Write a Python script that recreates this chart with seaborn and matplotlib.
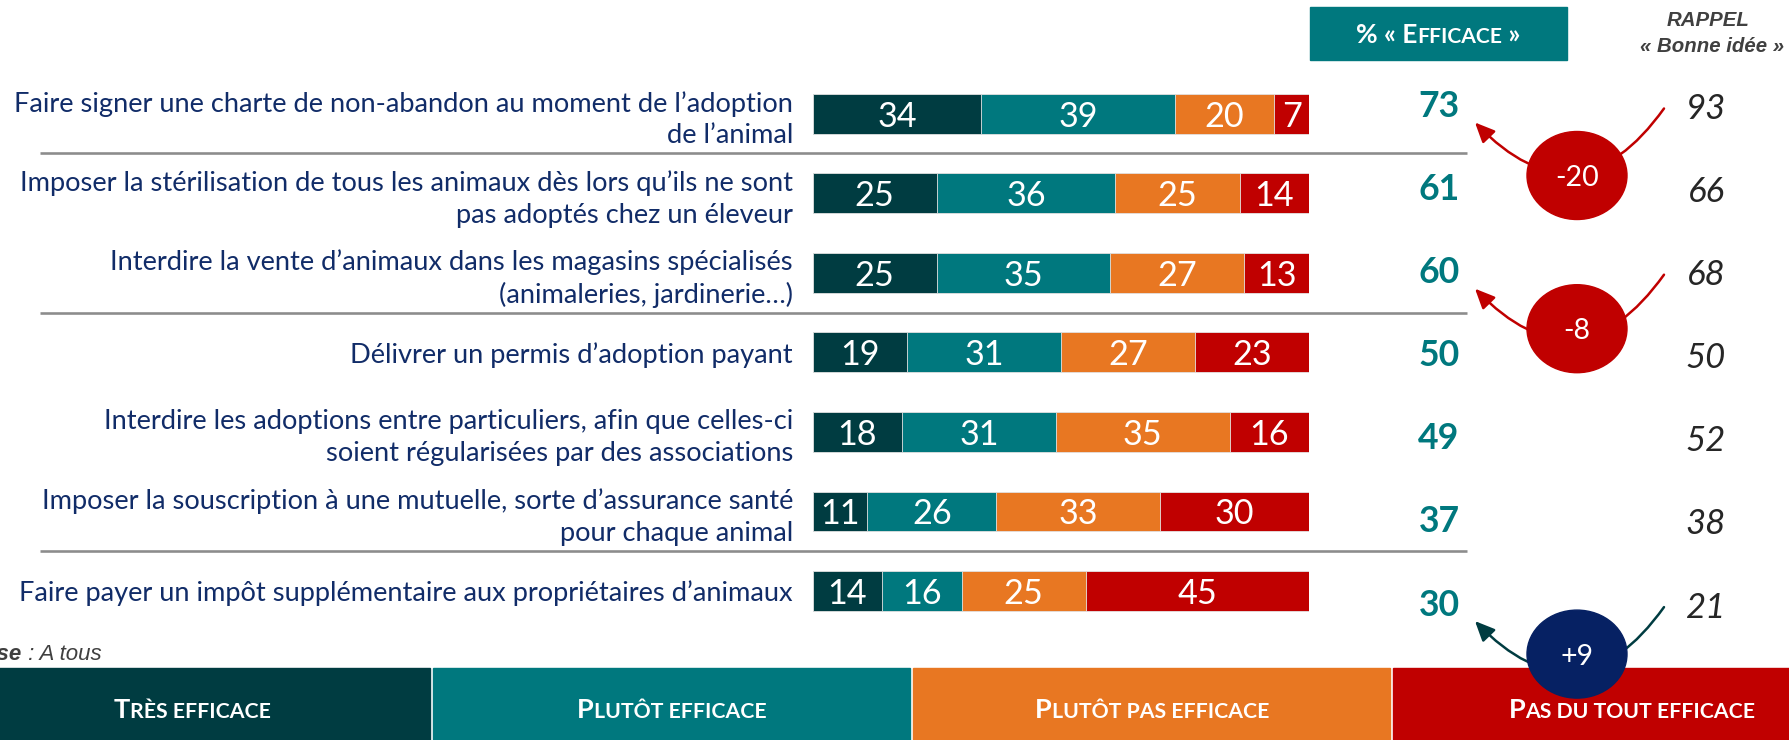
import itertools
import matplotlib
matplotlib.use("Agg")
import matplotlib.pyplot as plt
import pandas as pd
import seaborn as sns
from matplotlib.patches import Rectangle, Ellipse, FancyArrowPatch
from matplotlib.offsetbox import TextArea, HPacker, AnnotationBbox

# Données
mesures = [
    "Faire signer une charte de non-abandon au moment de l’adoption\nde l’animal",
    "Imposer la stérilisation de tous les animaux dès lors qu’ils ne sont\npas adoptés chez un éleveur",
    "Interdire la vente d’animaux dans les magasins spécialisés\n(animaleries, jardinerie…)",
    "Délivrer un permis d’adoption payant",
    "Interdire les adoptions entre particuliers, afin que celles-ci\nsoient régularisées par des associations",
    "Imposer la souscription à une mutuelle, sorte d’assurance santé\npour chaque animal",
    "Faire payer un impôt supplémentaire aux propriétaires d’animaux",
]
modalites = ["Très efficace", "Plutôt efficace", "Plutôt pas efficace", "Pas du tout efficace"]
tres_efficace = [34, 25, 25, 19, 18, 11, 14]
plutot_efficace = [39, 36, 35, 31, 31, 26, 16]
plutot_pas_efficace = [20, 25, 27, 27, 35, 33, 25]
pas_du_tout_efficace = [7, 14, 13, 23, 16, 30, 45]
pct_efficace = [73, 61, 60, 50, 49, 37, 30]
rappel_bonne_idee = [93, 66, 68, 50, 52, 38, 21]

couleurs = ["#003C41", "#00787E", "#E87722", "#C00000"]
BLEU = "#112C68"
TEAL = "#00787E"
ROUGE = "#C00000"
MARINE = "#062163"
GRIS = "#404040"

W, H = 1790, 740
POLICE = "Lato"
ARIAL = "Liberation Sans"

sns.set_theme(style="white")
plt.rcParams["font.family"] = [POLICE, "DejaVu Sans"]


def pt(px):
    return px * 72 / 100


def petites_capitales(axe, texte, x, y, grand, petit, couleur):
    # imitation des petites capitales : minuscules -> majuscules plus petites
    drapeaux = []
    for i, c in enumerate(texte):
        p = c.islower()
        if c == " " and 0 < i < len(texte) - 1:
            p = texte[i - 1].islower() and texte[i + 1].islower()
        drapeaux.append(p)
    enfants = []
    for p, grp in itertools.groupby(zip(texte, drapeaux), key=lambda t: t[1]):
        s = "".join(c for c, _ in grp)
        enfants.append(TextArea(s.upper(), textprops=dict(
            fontsize=petit if p else grand, fontweight="bold", color=couleur, family=POLICE)))
    pack = HPacker(children=enfants, align="baseline", pad=0, sep=0)
    ab = AnnotationBbox(pack, (x, y), xycoords="data", frameon=False,
                        box_alignment=(0.5, 0.5), pad=0, zorder=10)
    axe.add_artist(ab)


fig = plt.figure(figsize=(W / 100, H / 100), dpi=100)
fond = fig.add_axes([0, 0, 1, 1])
fond.set_xlim(0, W)
fond.set_ylim(H, 0)
fond.axis("off")

# barres empilées
n = len(mesures)
x0, x1 = 812.7, 1309
y_haut, pas = 113.7, 79.55
haut = y_haut - pas / 2
bas = y_haut + pas * (n - 1) + pas / 2
ax = fig.add_axes([x0 / W, 1 - bas / H, (x1 - x0) / W, (bas - haut) / H])
ax.set_facecolor("none")

df = pd.DataFrame({"mesure": mesures,
                   modalites[0]: tres_efficace,
                   modalites[1]: plutot_efficace,
                   modalites[2]: plutot_pas_efficace,
                   modalites[3]: pas_du_tout_efficace})
cumul = df[modalites].cumsum(axis=1)
for k in range(len(modalites) - 1, -1, -1):
    sns.barplot(x=cumul[modalites[k]], y=df["mesure"], orient="h", color=couleurs[k],
                saturation=1, width=0.5, edgecolor="#e4e4e4", linewidth=0.6, ax=ax)

for i in range(n):
    gauche = 0
    for m in modalites:
        v = df.loc[i, m]
        ax.text(gauche + v / 2, i, str(v), ha="center", va="center_baseline",
                color="white", fontsize=24.6)
        gauche += v

ax.set_xlim(0, 100)
ax.set_ylim(n - 0.5, -0.5)
ax.set_xticks([])
ax.set_xlabel("")
ax.set_ylabel("")
sns.despine(ax=ax, left=True, bottom=True)
ax.tick_params(axis="y", length=0, pad=pt(19.7), labelsize=19.6, labelcolor=BLEU)
for lab in ax.get_yticklabels():
    lab.set_linespacing(1.34)
    lab.set_multialignment("right")

# séparateurs
for i in (0, 2, 5):
    y = y_haut + pas * (i + 0.5)
    fond.plot([40, 1467], [y, y], color="#8C8C8C", lw=pt(2.6), solid_capstyle="butt")

# colonne % efficace et rappel
fond.add_patch(Rectangle((1310, 7), 257, 53, color=TEAL))
petites_capitales(fond, "% « Efficace »", 1438, 35, 19, 15.2, "white")
fond.text(1708, 21, "RAPPEL", ha="center", va="center", family=ARIAL,
          fontweight="bold", style="italic", fontsize=14.7, color=GRIS)
fond.text(1712, 47, "« Bonne idée »", ha="center", va="center", family=ARIAL,
          fontweight="bold", style="italic", fontsize=14.7, color=GRIS)

y_droite = [103.5 + 83.1 * i for i in range(n)]
for i in range(n):
    fond.text(1439, y_droite[i], str(pct_efficace[i]), ha="center", va="center_baseline",
              fontsize=25.7, fontweight="bold", color=TEAL)
    fond.text(1706, y_droite[i] + 2.5, str(rappel_bonne_idee[i]), ha="center",
              va="center_baseline", fontsize=25, style="italic", color="#262626")

# écarts efficace / bonne idée
decal_cercle = {0: 72, 2: 59, 6: 52}
for i in range(n):
    d = pct_efficace[i] - rappel_bonne_idee[i]
    if abs(d) < 8:
        continue
    yr = y_droite[i]
    c_fleche = ROUGE if d < 0 else couleurs[0]
    c_rond = ROUGE if d < 0 else MARINE
    fleche = FancyArrowPatch((1664, yr + 5), (1475, yr + 19),
                             connectionstyle="arc3,rad=-0.6",
                             arrowstyle="-|>,head_length=1.0,head_width=0.45",
                             mutation_scale=12, lw=pt(2.5), color=c_fleche,
                             shrinkA=0, shrinkB=0, zorder=4)
    fond.add_patch(fleche)
    yc = yr + decal_cercle.get(i, 60)
    fond.add_patch(Ellipse((1577, yc), 100, 88, color=c_rond, zorder=5))
    fond.text(1577, yc, f"{d:+d}", ha="center", va="center_baseline",
              color="white", fontsize=20.5, zorder=6)

# base
fond.text(22, 654, "Base", ha="right", va="center", family=ARIAL, fontweight="bold",
          style="italic", fontsize=16, color=GRIS)
fond.text(22, 654, " : A tous", ha="left", va="center", family=ARIAL,
          style="italic", fontsize=16, color=GRIS)

# légende
for k, m in enumerate(modalites):
    fond.add_patch(Rectangle((-48 + 480 * k + 1.5, 668), 477, 80, color=couleurs[k], zorder=2))
    petites_capitales(fond, m, 192 + 480 * k, 710, 19.5, 15.3, "white")

fig.savefig("out.png", dpi=100)
